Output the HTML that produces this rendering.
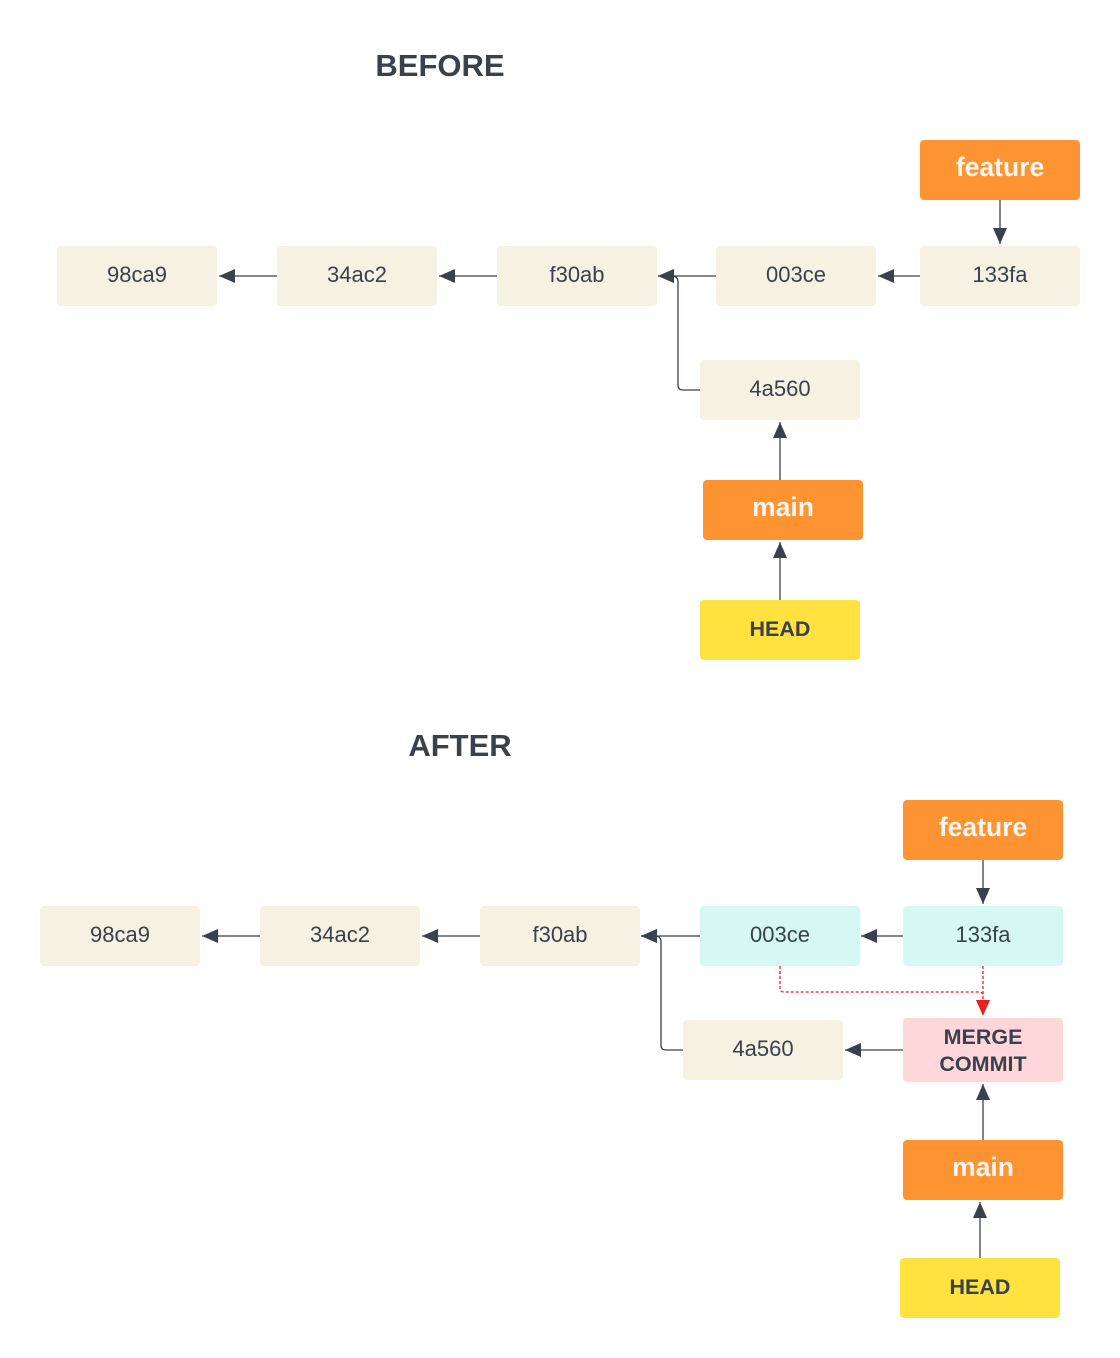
<!DOCTYPE html>
<html><head><meta charset="utf-8"><style>
html,body{margin:0;padding:0;background:#fff;}
svg{display:block;}
text{font-family:"Liberation Sans",sans-serif;}
</style></head><body>
<svg width="1120" height="1358" viewBox="0 0 1120 1358" xmlns="http://www.w3.org/2000/svg">
<defs>
<marker id="a" markerUnits="userSpaceOnUse" markerWidth="18" markerHeight="14" refX="16" refY="7" orient="auto"><path d="M0,0 L16,7 L0,14 Z" fill="#3a414a"/></marker>
<marker id="r" markerUnits="userSpaceOnUse" markerWidth="18" markerHeight="14" refX="16" refY="7" orient="auto"><path d="M0,0 L16,7 L0,14 Z" fill="#e8211f"/></marker>
</defs>
<g font-size="31" font-weight="bold" fill="#3a414a" text-anchor="middle">
<text x="440" y="76">BEFORE</text>
<text x="460" y="756">AFTER</text>
</g>
<g stroke="#3a414a" stroke-width="1.3" fill="none" marker-end="url(#a)">
<line x1="277" y1="276" x2="219" y2="276"/>
<line x1="497" y1="276" x2="439" y2="276"/>
<line x1="716" y1="276" x2="658" y2="276"/>
<line x1="920" y1="276" x2="878" y2="276"/>
<line x1="1000" y1="200" x2="1000" y2="244"/>
<path d="M700,390 H683 Q678,390 678,385 V282 Q678,276 672,276 H658"/>
<line x1="780" y1="480" x2="780" y2="422"/>
<line x1="780" y1="600" x2="780" y2="542"/>
<line x1="260" y1="936" x2="202" y2="936"/>
<line x1="480" y1="936" x2="422" y2="936"/>
<line x1="700" y1="936" x2="641" y2="936"/>
<line x1="903" y1="936" x2="861" y2="936"/>
<line x1="983" y1="860" x2="983" y2="904"/>
<path d="M683,1050 H666 Q661,1050 661,1045 V942 Q661,936 655,936 H641"/>
<line x1="903" y1="1050" x2="845" y2="1050"/>
<line x1="983" y1="1140" x2="983" y2="1084"/>
<line x1="980" y1="1258" x2="980" y2="1202"/>
</g>
<g stroke="#e8211f" stroke-width="1.3" fill="none" stroke-dasharray="3,2">
<path d="M780,966 V988 Q780,992 784,992 H979 Q983,992 983,996"/>
<line x1="983" y1="966" x2="983" y2="1016" marker-end="url(#r)"/>
</g>
<g>
<rect x="57" y="246" width="160" height="60" rx="4" fill="#f5f2e3"/>
<rect x="277" y="246" width="160" height="60" rx="4" fill="#f5f2e3"/>
<rect x="497" y="246" width="160" height="60" rx="4" fill="#f5f2e3"/>
<rect x="716" y="246" width="160" height="60" rx="4" fill="#f5f2e3"/>
<rect x="920" y="246" width="160" height="60" rx="4" fill="#f5f2e3"/>
<rect x="920" y="140" width="160" height="60" rx="4" fill="#fd9431"/>
<rect x="700" y="360" width="160" height="60" rx="4" fill="#f5f2e3"/>
<rect x="703" y="480" width="160" height="60" rx="4" fill="#fd9431"/>
<rect x="700" y="600" width="160" height="60" rx="4" fill="#ffe13f"/>
<rect x="40" y="906" width="160" height="60" rx="4" fill="#f5f2e3"/>
<rect x="260" y="906" width="160" height="60" rx="4" fill="#f5f2e3"/>
<rect x="480" y="906" width="160" height="60" rx="4" fill="#f5f2e3"/>
<rect x="700" y="906" width="160" height="60" rx="4" fill="#d5f8f2"/>
<rect x="903" y="906" width="160" height="60" rx="4" fill="#d5f8f2"/>
<rect x="903" y="800" width="160" height="60" rx="4" fill="#fd9431"/>
<rect x="683" y="1020" width="160" height="60" rx="4" fill="#f5f2e3"/>
<rect x="903" y="1018" width="160" height="64" rx="4" fill="#ffd7da"/>
<rect x="903" y="1140" width="160" height="60" rx="4" fill="#fd9431"/>
<rect x="900" y="1258" width="160" height="60" rx="4" fill="#ffe13f"/>
</g>
<g font-size="22" fill="#3a414a" text-anchor="middle">
<text x="137" y="282">98ca9</text>
<text x="357" y="282">34ac2</text>
<text x="577" y="282">f30ab</text>
<text x="796" y="282">003ce</text>
<text x="1000" y="282">133fa</text>
<text x="780" y="396">4a560</text>
<text x="120" y="942">98ca9</text>
<text x="340" y="942">34ac2</text>
<text x="560" y="942">f30ab</text>
<text x="780" y="942">003ce</text>
<text x="983" y="942">133fa</text>
<text x="763" y="1056">4a560</text>
</g>
<g font-size="26.5" font-weight="bold" fill="#f7f5f0" text-anchor="middle">
<text x="1000" y="176">feature</text>
<text x="783" y="516">main</text>
<text x="983" y="836">feature</text>
<text x="983" y="1176">main</text>
</g>
<g font-size="21.5" font-weight="bold" fill="#3a414a" text-anchor="middle">
<text x="780" y="636">HEAD</text>
<text x="980" y="1294">HEAD</text>
<text x="983" y="1044">MERGE</text>
<text x="983" y="1071">COMMIT</text>
</g>
</svg>
</body></html>
